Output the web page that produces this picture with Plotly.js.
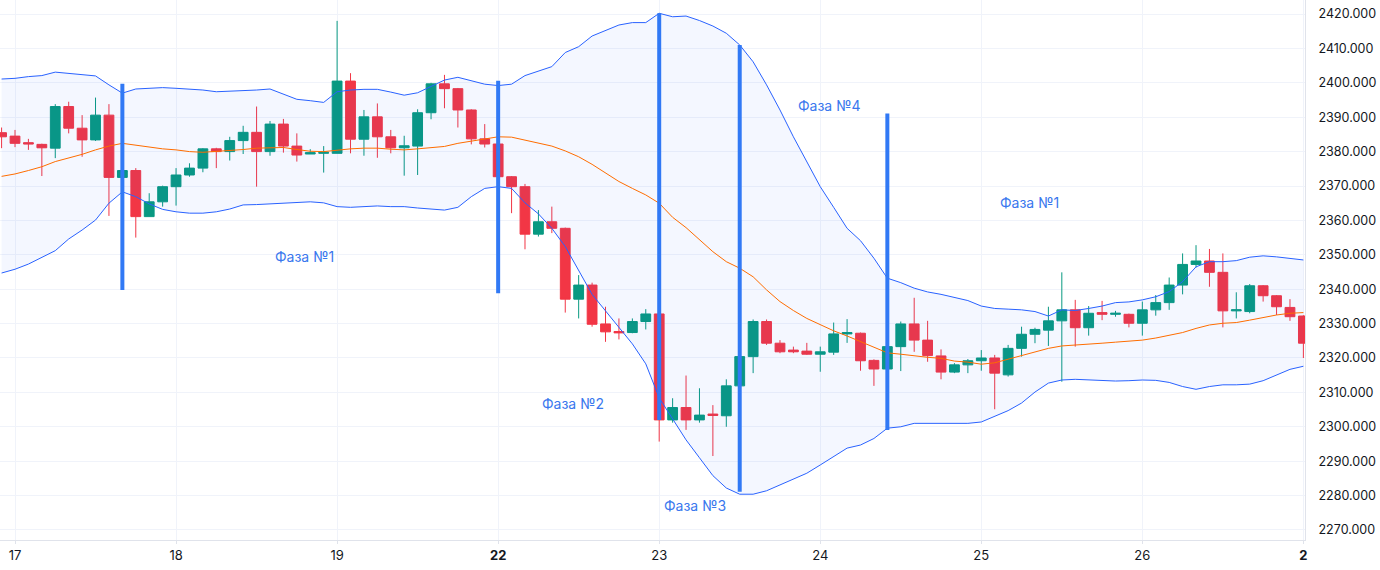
<!DOCTYPE html>
<html>
<head>
<meta charset="utf-8">
<script src="https://cdn.plot.ly/plotly-3.0.1.min.js"></script>
<style>
  html, body { margin: 0; padding: 0; background: #ffffff; }
  #chart { width: 1380px; height: 570px; }
</style>
</head>
<body>
<div id="chart"></div>
<script>
// ---- data (bar index -1 .. 96; 12 bars per trading day) ----
const firstIndex = -1;
const dayTicks  = [0, 12, 24, 36, 48, 60, 72, 84, 96];
const dayLabels = ['17', '18', '19', '<b>22</b>', '23', '24', '25', '26', '<b>2</b>'];

const openP = [2385.5,2384.5,2382.6,2382.1,2381.0,2393.1,2386.8,2383.4,2390.6,2372.5,
  2374.5,2361.1,2365.4,2369.8,2373.2,2375.2,2380.8,2380.0,2383.2,2385.6,
  2380.0,2388.0,2381.6,2379.3,2379.5,2379.5,2400.5,2383.6,2390.1,2384.3,
  2381.1,2381.6,2391.3,2399.7,2398.3,2392.1,2383.7,2382.2,2372.7,2369.8,
  2356.0,2359.6,2357.7,2337.1,2341.2,2329.9,2327.7,2327.4,2330.6,2332.8,
  2302.0,2305.6,2302.0,2303.7,2303.2,2311.9,2320.4,2330.6,2324.3,2322.3,
  2322.0,2321.1,2321.7,2327.0,2327.2,2319.3,2316.8,2323.3,2329.9,2325.2,
  2320.6,2315.9,2318.0,2319.2,2320.0,2315.1,2322.8,2326.9,2328.1,2330.8,
  2334.0,2328.8,2333.2,2332.7,2332.7,2330.1,2334.0,2336.1,2341.2,2347.2,
  2348.2,2344.9,2333.7,2333.5,2341.0,2338.1,2334.7,2332.2];
const highP = [2387.0,2386.3,2383.7,2382.3,2393.8,2394.5,2390.6,2395.7,2393.8,2379.2,
  2375.2,2367.9,2370.1,2375.2,2376.6,2381.0,2381.1,2384.3,2387.5,2393.1,
  2388.9,2389.5,2385.3,2380.7,2381.6,2418.0,2402.8,2392.1,2394.0,2386.3,
  2384.6,2392.3,2400.0,2402.3,2398.5,2392.3,2388.0,2384.3,2372.9,2370.6,
  2363.0,2364.0,2357.9,2344.1,2341.9,2334.9,2331.5,2331.5,2334.2,2334.4,
  2308.3,2314.9,2311.2,2306.3,2313.8,2332.5,2331.2,2331.2,2325.2,2323.3,
  2324.4,2323.3,2330.3,2331.3,2327.4,2319.6,2324.3,2330.6,2337.5,2330.8,
  2322.5,2318.5,2319.7,2322.3,2320.9,2323.8,2329.1,2328.8,2334.9,2344.9,
  2336.9,2335.1,2336.6,2333.7,2332.9,2336.4,2338.3,2343.4,2350.4,2352.8,
  2351.7,2350.4,2339.1,2341.5,2341.2,2338.3,2337.1,2332.4];
const lowP = [2381.0,2381.3,2380.5,2372.9,2378.1,2385.3,2378.5,2383.1,2361.3,2368.3,
  2355.0,2361.1,2364.0,2364.3,2372.7,2374.0,2375.2,2377.4,2379.3,2369.8,
  2378.8,2379.7,2377.1,2379.3,2373.9,2379.5,2379.5,2378.8,2378.2,2379.5,
  2373.0,2373.2,2389.4,2392.6,2387.0,2382.1,2381.2,2372.6,2362.1,2351.6,
  2355.3,2356.3,2333.2,2331.5,2329.1,2324.7,2325.4,2327.2,2328.3,2295.7,
  2301.2,2299.1,2301.2,2291.5,2300.0,2309.7,2315.6,2323.8,2321.4,2321.4,
  2320.9,2316.0,2320.9,2324.4,2316.3,2311.9,2312.2,2316.2,2321.8,2318.9,
  2313.8,2315.6,2315.6,2316.3,2305.1,2314.6,2320.4,2324.3,2323.5,2313.1,
  2323.3,2326.5,2331.0,2332.0,2328.9,2326.5,2332.3,2334.0,2338.5,2346.3,
  2340.7,2328.9,2331.5,2333.0,2336.4,2332.5,2330.8,2320.0];
const closeP = [2384.3,2382.4,2382.2,2381.1,2393.1,2386.8,2383.4,2390.6,2372.5,2374.5,
  2361.1,2365.4,2369.8,2373.2,2375.2,2380.8,2380.0,2383.2,2385.6,2380.0,
  2388.0,2381.6,2379.0,2379.7,2379.8,2400.5,2383.6,2390.1,2384.3,2381.1,
  2381.7,2391.3,2399.7,2398.3,2392.1,2383.7,2382.2,2372.7,2369.8,2356.0,
  2359.6,2357.7,2337.1,2341.2,2329.8,2327.6,2327.3,2330.6,2332.8,2302.0,
  2305.6,2302.0,2303.4,2303.3,2311.9,2320.4,2330.6,2324.3,2321.8,2321.8,
  2321.1,2321.8,2327.0,2327.4,2319.2,2316.8,2323.3,2329.9,2325.2,2320.7,
  2315.9,2318.0,2319.2,2320.0,2315.6,2322.8,2326.9,2328.3,2330.8,2334.0,
  2328.8,2333.0,2332.7,2333.0,2330.1,2334.0,2336.1,2341.2,2347.2,2348.2,
  2344.9,2333.7,2334.0,2341.0,2338.1,2334.9,2332.0,2324.3];

const upperBand = [2401.1,2401.3,2401.8,2402.1,2403.1,2402.7,2402.3,2402.0,2399.4,2397.0,
  2398.2,2398.5,2398.6,2398.4,2398.2,2397.9,2397.4,2397.5,2397.7,2397.9,
  2398.2,2396.7,2395.2,2394.8,2394.3,2397.4,2397.9,2398.1,2398.1,2397.3,
  2396.4,2397.1,2398.9,2400.8,2401.6,2400.6,2399.6,2399.2,2399.6,2402.1,
  2403.4,2404.7,2408.8,2410.5,2413.6,2415.3,2416.8,2417.5,2417.5,2420.2,
  2419.2,2419.4,2418.1,2416.5,2414.4,2411.0,2406.1,2399.4,2392.1,2384.3,
  2377.1,2369.8,2363.8,2357.7,2354.1,2349.0,2343.2,2341.9,2340.3,2339.2,
  2338.5,2337.6,2336.7,2335.1,2334.4,2334.2,2334.0,2333.5,2332.2,2334.0,
  2333.8,2334.4,2335.1,2336.1,2336.3,2336.9,2337.8,2339.3,2342.2,2346.5,
  2348.0,2348.0,2348.3,2349.3,2349.7,2349.4,2348.9,2348.5];
const middleBand = [2372.8,2373.5,2374.5,2375.6,2377.1,2378.1,2379.2,2380.5,2381.6,2382.4,
  2381.9,2381.2,2380.8,2380.5,2380.0,2379.8,2380.0,2380.2,2380.6,2381.0,
  2381.2,2381.2,2380.6,2380.1,2380.0,2380.5,2380.8,2381.0,2381.0,2380.7,
  2380.5,2380.8,2381.2,2381.5,2382.4,2383.1,2383.7,2384.3,2384.2,2383.4,
  2382.5,2381.6,2380.2,2378.5,2376.3,2373.7,2371.3,2369.3,2367.4,2365.0,
  2360.9,2357.9,2354.3,2350.9,2348.0,2346.1,2343.6,2339.8,2336.4,2333.8,
  2331.5,2329.6,2327.9,2326.4,2324.7,2323.1,2321.5,2321.1,2320.6,2320.2,
  2319.9,2319.1,2318.8,2318.2,2318.6,2319.6,2320.6,2321.6,2322.8,2323.5,
  2323.7,2324.0,2324.3,2324.6,2324.9,2325.2,2325.8,2326.6,2327.4,2328.6,
  2329.6,2330.1,2330.3,2331.0,2331.8,2332.5,2333.0,2333.2];
const lowerBand = [2344.7,2345.8,2347.3,2349.3,2351.2,2354.6,2357.2,2360.1,2365.0,2368.3,
  2366.9,2364.8,2363.2,2362.5,2362.1,2362.1,2362.5,2363.3,2364.5,2364.6,
  2364.8,2365.1,2365.4,2365.4,2365.1,2364.0,2363.8,2364.0,2364.2,2364.0,
  2364.0,2363.6,2363.2,2363.0,2363.8,2366.9,2369.3,2369.8,2369.3,2365.1,
  2361.9,2357.7,2352.4,2345.6,2338.5,2333.7,2329.0,2324.1,2318.3,2308.4,
  2302.3,2296.2,2291.0,2285.8,2282.2,2280.4,2280.4,2281.4,2283.1,2284.8,
  2286.5,2288.9,2291.3,2293.8,2294.7,2296.6,2299.6,2300.0,2301.0,2301.0,
  2300.8,2300.8,2301.0,2301.4,2303.1,2304.7,2306.9,2310.1,2312.7,2313.6,
  2313.8,2313.6,2313.4,2313.3,2313.4,2313.6,2313.5,2312.9,2311.7,2310.9,
  2311.7,2312.2,2312.2,2312.4,2313.4,2315.1,2316.7,2317.6];

// phase boundary markers (bar index, top price, bottom price)
const phaseX      = [8, 36, 48, 54, 65];
const phaseTop    = [2399.7, 2400.6, 2420.2, 2411.0, 2391.1];
const phaseBottom = [2339.8, 2338.8, 2302.0, 2281.1, 2299.1];

// phase labels
const labelText = ['Фаза №1', 'Фаза №2', 'Фаза №3', 'Фаза №4', 'Фаза №1'];
const labelX    = [21.6, 41.6, 50.7, 60.7, 75.6];
const labelY    = [2349.4, 2306.9, 2277.0, 2393.3, 2365.3];

// ---- build traces ----
const xIdx = openP.map((_, k) => firstIndex + k);

const mx = [], my = [];
phaseX.forEach((px, k) => { mx.push(px, px, null); my.push(phaseTop[k], phaseBottom[k], null); });

const traces = [
  { type: 'scatter', mode: 'lines', x: xIdx, y: lowerBand,
    line: { color: '#2962FF', width: 1 }, hoverinfo: 'skip', showlegend: false },
  { type: 'scatter', mode: 'lines', x: xIdx, y: upperBand, fill: 'tonexty',
    fillcolor: 'rgba(41,98,255,0.05)',
    line: { color: '#2962FF', width: 1 }, hoverinfo: 'skip', showlegend: false },
  { type: 'scatter', mode: 'lines', x: xIdx, y: middleBand,
    line: { color: '#FF6D00', width: 1 }, hoverinfo: 'skip', showlegend: false },
  { type: 'scatter', mode: 'lines', x: mx, y: my, connectgaps: false,
    line: { color: '#3179F5', width: 4 }, hoverinfo: 'skip', showlegend: false },
  { type: 'candlestick', x: xIdx, open: openP, high: highP, low: lowP, close: closeP,
    increasing: { line: { color: '#089981', width: 1 }, fillcolor: '#089981' },
    decreasing: { line: { color: '#F23645', width: 1 }, fillcolor: '#F23645' },
    whiskerwidth: 0, showlegend: false }
];

const annotations = labelText.map((t, k) => ({
  x: labelX[k], y: labelY[k], xref: 'x', yref: 'y', text: t, showarrow: false,
  font: { family: 'Inter, Roboto, sans-serif', size: 14, color: '#3A78EE' },
  xanchor: 'center', yanchor: 'middle'
}));

const layout = {
  width: 1380, height: 570,
  margin: { l: 0, r: 75, t: 0, b: 30, pad: 0 },
  paper_bgcolor: '#ffffff', plot_bgcolor: '#ffffff',
  showlegend: false,
  boxgap: 0.27, boxgroupgap: 0,
  font: { family: 'Inter, Roboto, sans-serif', size: 13, color: '#131722' },
  xaxis: {
    range: [-1.118, 96.12], rangeslider: { visible: false },
    tickmode: 'array', tickvals: dayTicks, ticktext: dayLabels,
    showgrid: true, gridcolor: '#F0F3FA', gridwidth: 1,
    zeroline: false, showline: true, linecolor: '#E0E3EB', linewidth: 1,
    ticks: 'outside', ticklen: 3, tickcolor: '#E0E3EB',
    tickfont: { family: 'Inter, Roboto, sans-serif', size: 13, color: '#131722' },
    fixedrange: true
  },
  yaxis: {
    side: 'right', range: [2267.09, 2424.07],
    tick0: 2270, dtick: 10, tickformat: '.3f',
    showgrid: true, gridcolor: '#F0F3FA', gridwidth: 1,
    zeroline: false, showline: true, linecolor: '#E0E3EB', linewidth: 1,
    ticks: '', ticklabelstandoff: 10,
    tickfont: { family: 'Inter, Roboto, sans-serif', size: 12.5, color: '#131722' },
    fixedrange: true
  },
  annotations: annotations
};

Plotly.newPlot('chart', traces, layout, { displayModeBar: false, staticPlot: true });
</script>
</body>
</html>
